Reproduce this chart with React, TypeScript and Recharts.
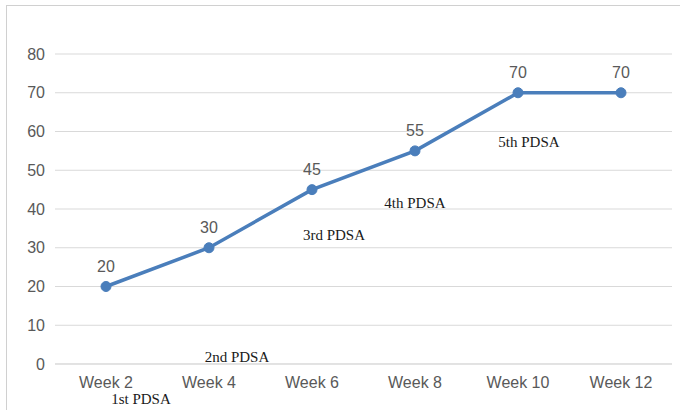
import { LineChart, Line, XAxis, YAxis, CartesianGrid, LabelList } from 'recharts';

const weeks = ['Week 2', 'Week 4', 'Week 6', 'Week 8', 'Week 10', 'Week 12'];
const values = [20, 30, 45, 55, 70, 70];
const yTicks = [0, 10, 20, 30, 40, 50, 60, 70, 80];
const pdsaLabels = ['1st PDSA', '2nd PDSA', '3rd PDSA', '4th PDSA', '5th PDSA'];

// where each PDSA note sits on the page (center x, baseline y)
const pdsaSpots = [
  [141, 404],
  [237, 362],
  [334, 240],
  [415, 208],
  [529, 147],
];

const data = weeks.map((week, i) => ({ week, value: values[i] }));

const axisFont = { fill: '#595959', fontSize: 16, fontFamily: 'Liberation Sans, Arial, sans-serif' };

export default function App() {
  return (
    <div style={{ position: 'absolute', left: 0, top: 0, width: 680, height: 410, background: '#fff', overflow: 'hidden' }}>
      <LineChart
        width={680}
        height={410}
        data={data}
        margin={{ top: 54, right: 8, bottom: 16, left: 0 }}
      >
        <CartesianGrid vertical={false} stroke="#d9d9d9" strokeWidth={1} />
        <XAxis
          dataKey="week"
          height={30}
          padding={{ left: 51, right: 51 }}
          tickLine={false}
          axisLine={{ stroke: '#d9d9d9' }}
          tickSize={0}
          tickMargin={13}
          tick={axisFont}
          interval={0}
        />
        <YAxis
          width={55}
          domain={[0, 80]}
          ticks={yTicks}
          tickLine={false}
          axisLine={false}
          tickSize={0}
          tickMargin={10}
          tick={axisFont}
        />
        <Line
          type="linear"
          dataKey="value"
          stroke="#4a7ebb"
          strokeWidth={3.5}
          dot={{ r: 5, fill: '#4a7ebb', stroke: '#4a7ebb', strokeWidth: 1 }}
          isAnimationActive={false}
        >
          <LabelList
            dataKey="value"
            position="top"
            offset={15}
            style={{ fill: '#595959', fontSize: 16, fontFamily: 'Liberation Sans, Arial, sans-serif' }}
          />
        </Line>
      </LineChart>
      <svg width={680} height={410} style={{ position: 'absolute', left: 0, top: 0, pointerEvents: 'none' }}>
        <rect x={6.5} y={5.5} width={700} height={420} fill="none" stroke="#d0d0d0" strokeWidth={1} />
        {pdsaLabels.map((label, i) => (
          <text
            key={label}
            x={pdsaSpots[i][0]}
            y={pdsaSpots[i][1]}
            textAnchor="middle"
            fill="#1a1a1a"
            fontSize={15}
            fontFamily="Liberation Serif, Times New Roman, serif"
          >
            {label}
          </text>
        ))}
      </svg>
    </div>
  );
}
